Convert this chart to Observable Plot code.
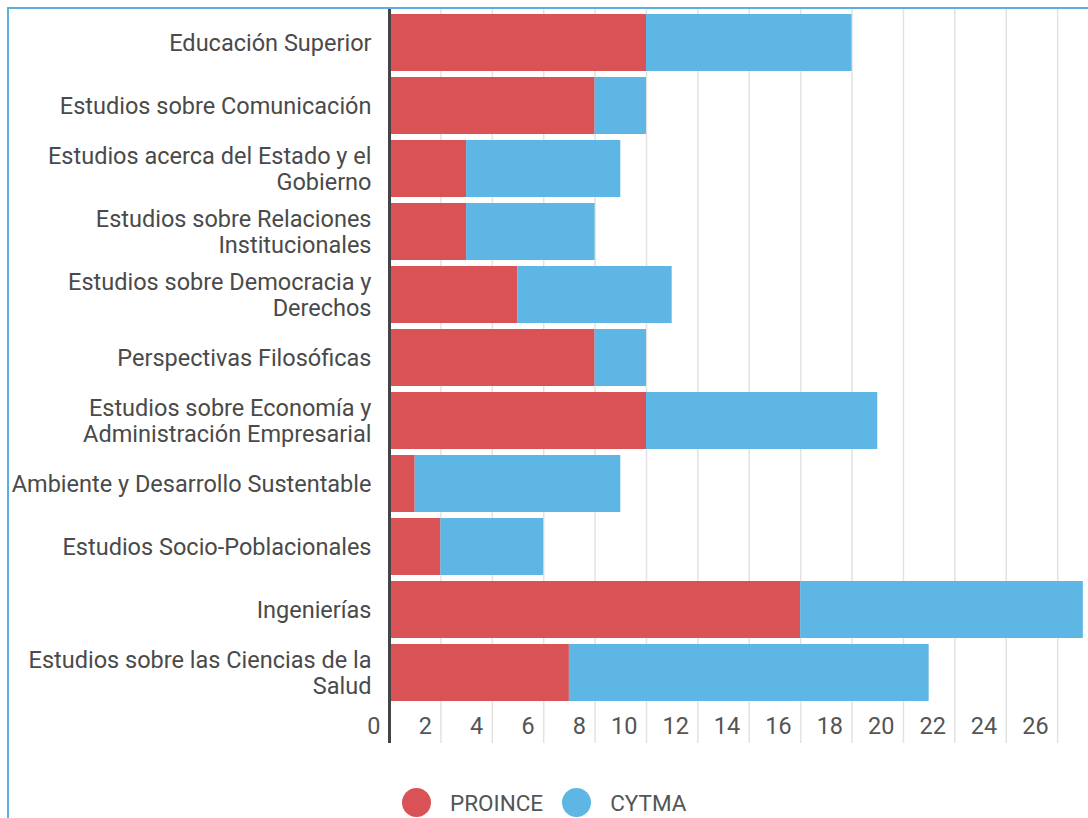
<!DOCTYPE html>
<html>
<head>
<meta charset="utf-8">
<script src="https://cdn.jsdelivr.net/npm/d3@7"></script>
<script src="https://cdn.jsdelivr.net/npm/@observablehq/plot@0.6"></script>
<style>
  html, body { margin: 0; padding: 0; background: #fff; width: 1088px; height: 818px; overflow: hidden; font-family: Roboto, sans-serif; }
  #frame { position: absolute; left: 7px; top: 7px; width: 1200px; height: 900px; border-left: 2px solid #5aaee0; border-top: 2px solid #5aaee0; box-sizing: border-box; }
  #chart { position: absolute; left: 0; top: 0; }
  #legend { position: absolute; left: 402px; top: 788px; display: flex; align-items: center; font: 22.5px Roboto, sans-serif; color: #555; }
  .sw { width: 29px; height: 29px; border-radius: 50%; display: inline-block; }
</style>
</head>
<body>
<div id="frame"></div>
<div id="chart"></div>
<div id="legend"></div>
<script>
const categories = [
  "Educación Superior",
  "Estudios sobre Comunicación",
  "Estudios acerca del Estado y el Gobierno",
  "Estudios sobre Relaciones Institucionales",
  "Estudios sobre Democracia y Derechos",
  "Perspectivas Filosóficas",
  "Estudios sobre Economía y Administración Empresarial",
  "Ambiente y Desarrollo Sustentable",
  "Estudios Socio-Poblacionales",
  "Ingenierías",
  "Estudios sobre las Ciencias de la Salud"
];
const categoryLabels = [
  "Educación Superior",
  "Estudios sobre Comunicación",
  "Estudios acerca del Estado y el\nGobierno",
  "Estudios sobre Relaciones\nInstitucionales",
  "Estudios sobre Democracia y\nDerechos",
  "Perspectivas Filosóficas",
  "Estudios sobre Economía y\nAdministración Empresarial",
  "Ambiente y Desarrollo Sustentable",
  "Estudios Socio-Poblacionales",
  "Ingenierías",
  "Estudios sobre las Ciencias de la\nSalud"
];
const seriesNames = ["PROINCE", "CYTMA"];
const proince = [10, 8, 3, 3, 5, 8, 10, 1, 2, 16, 7];
const cytma   = [8, 2, 6, 5, 6, 2, 9, 8, 4, 11, 14];
const xTicks = [0, 2, 4, 6, 8, 10, 12, 14, 16, 18, 20, 22, 24, 26];
const colors = ["#d95256", "#5eb6e4"];

const data = [];
categories.forEach((c, i) => {
  data.push({category: c, series: seriesNames[0], value: proince[i]});
  data.push({category: c, series: seriesNames[1], value: cytma[i]});
});
const labelOf = new Map(categories.map((c, i) => [c, categoryLabels[i]]));

const chart = Plot.plot({
  width: 1088,
  height: 760,
  marginLeft: 389,
  marginRight: 0,
  marginTop: 13,
  marginBottom: 58,
  style: {fontFamily: "Roboto, sans-serif", background: "transparent"},
  x: {domain: [0, 27.2], axis: null},
  y: {domain: categories, paddingInner: 0.09, paddingOuter: 0, axis: null},
  color: {domain: seriesNames, range: colors},
  marks: [
    Plot.ruleX(xTicks.filter(d => d > 0), {stroke: "#e2e2e2", strokeWidth: 1.5, insetTop: -4, insetBottom: -41}),
    Plot.barX(data, {y: "category", x: "value", fill: "series", inset: 0}),
    Plot.ruleX([0], {stroke: "#444", strokeWidth: 3, insetTop: -4, insetBottom: -41}),
    Plot.axisY({label: null, tickSize: 0, tickPadding: 18, fontSize: 23.5, lineHeight: 1.1, fill: "#4a4a4a", tickFormat: d => labelOf.get(d)}),
    Plot.axisX(xTicks, {label: null, tickSize: 0, tickPadding: 15, fontSize: 23.5, textAnchor: "end", dx: -9, fill: "#555", tickFormat: d => String(d)})
  ]
});
document.getElementById("chart").appendChild(chart);

const legend = document.getElementById("legend");
seriesNames.forEach((s, i) => {
  const sw = document.createElement("span");
  sw.className = "sw";
  sw.style.background = colors[i];
  sw.style.marginRight = "19px";
  const t = document.createElement("span");
  t.textContent = s;
  t.style.marginRight = i === 0 ? "19px" : "0";
  legend.appendChild(sw);
  legend.appendChild(t);
});
</script>
</body>
</html>
